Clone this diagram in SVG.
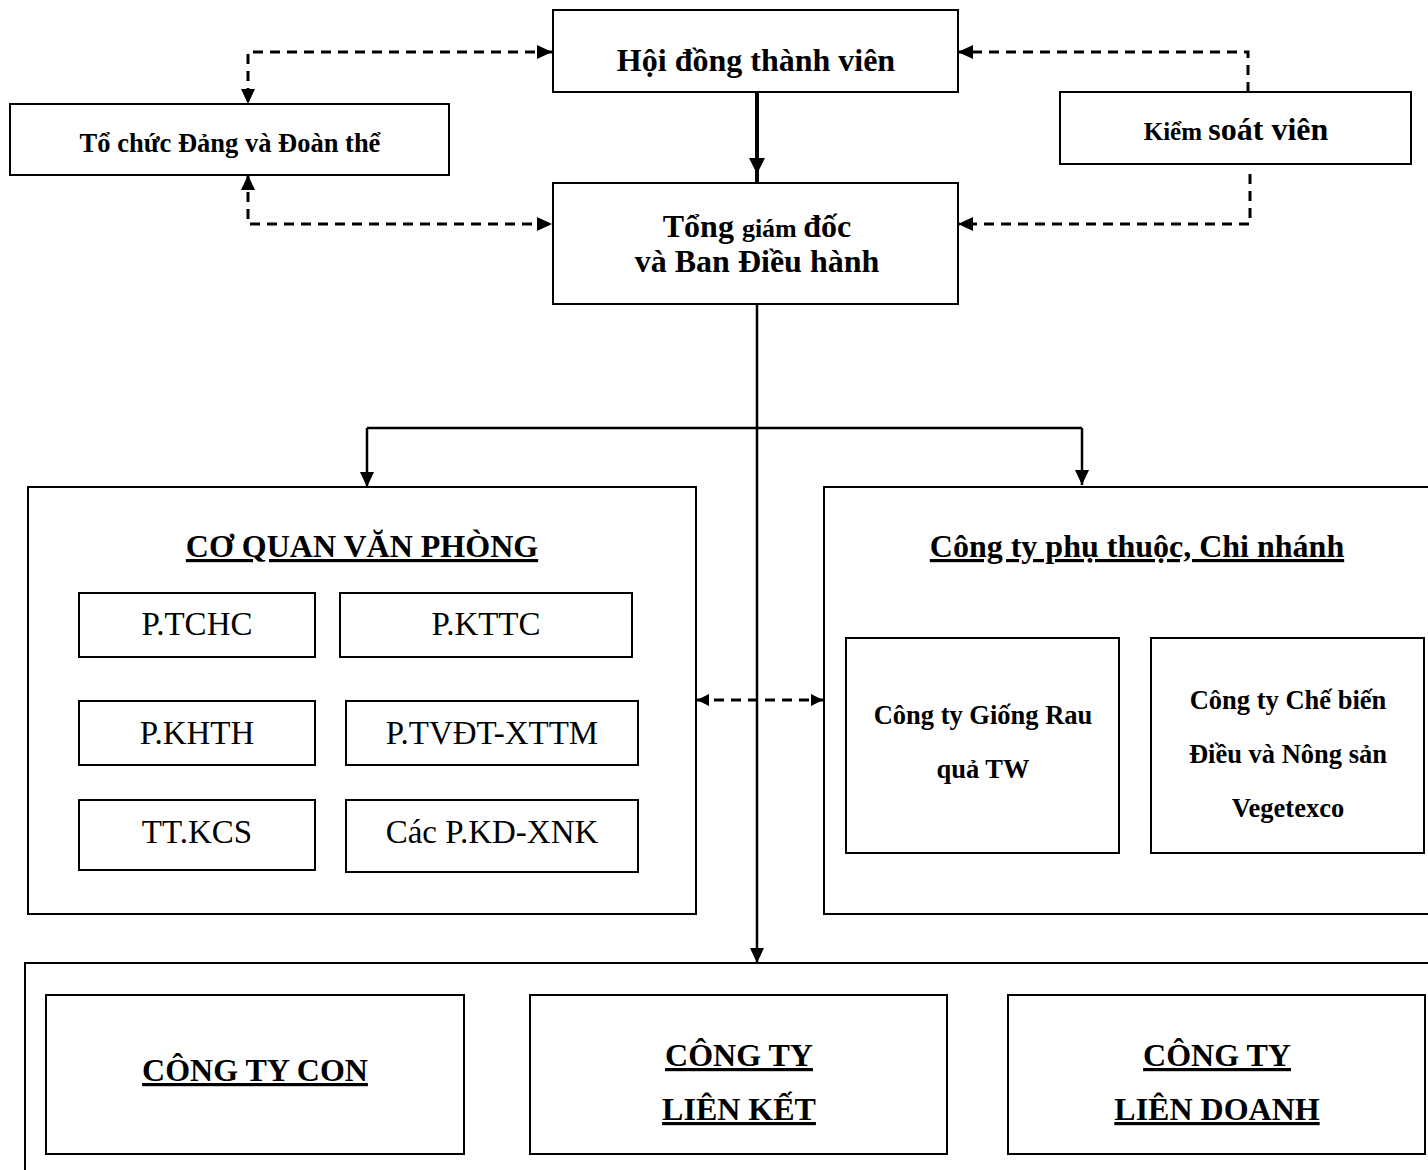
<svg xmlns="http://www.w3.org/2000/svg" width="1428" height="1170" viewBox="0 0 1428 1170">
<style>
.box{fill:#fff;stroke:#000;stroke-width:2}
.b{font-family:"Liberation Serif","Times New Roman",serif;font-weight:bold;fill:#000;text-anchor:middle}
.r{font-family:"Liberation Serif","Times New Roman",serif;font-weight:normal;fill:#000;text-anchor:middle;font-size:33px}
.u{text-decoration:underline;text-decoration-thickness:3px;text-underline-offset:4px}
.solid{fill:none;stroke:#000;stroke-width:2.5}
.dash{fill:none;stroke:#000;stroke-width:3;stroke-dasharray:10 7}
</style>
<defs>
<marker id="ah" viewBox="0 0 15 14" refX="15" refY="7" markerWidth="15" markerHeight="14" markerUnits="userSpaceOnUse" orient="auto-start-reverse">
<path d="M0,0 L15,7 L0,14 z" fill="#000"/>
</marker>
<marker id="ahs" viewBox="0 0 12 12" refX="12" refY="6" markerWidth="12" markerHeight="12" markerUnits="userSpaceOnUse" orient="auto-start-reverse">
<path d="M0,0 L12,6 L0,12 z" fill="#000"/>
</marker>
</defs>

<g id="bottom-frame"><rect class="box" x="25" y="963" width="1440" height="230"/></g>
<g id="co-quan-van-phong">
<rect class="box" x="28" y="487" width="668" height="427"/>
<text class="b u" x="362" y="557" font-size="32">CƠ QUAN VĂN PHÒNG</text>
</g>
<g id="cong-ty-phu-thuoc">
<rect class="box" x="824" y="487" width="630" height="427"/>
<text class="b u" x="1137" y="557" font-size="32">Công ty phụ thuộc, Chi nhánh</text>
</g>

<g id="hdtv"><rect class="box" x="553" y="10" width="405" height="82"/>
<text class="b" x="756" y="71" font-size="32">Hội đồng thành viên</text></g>
<g id="to-chuc-dang"><rect class="box" x="10" y="104" width="439" height="71"/>
<text class="b" x="230" y="152" font-size="26.5">Tổ chức Đảng và Đoàn thể</text></g>
<g id="kiem-soat-vien"><rect class="box" x="1060" y="92" width="351" height="72"/>
<text class="b" x="1236" y="140"><tspan font-size="25">Kiểm </tspan><tspan font-size="32">soát viên</tspan></text></g>
<g id="tong-giam-doc"><rect class="box" x="553" y="183" width="405" height="121"/>
<text class="b" x="757" y="237"><tspan font-size="32">Tổng </tspan><tspan font-size="26">giám </tspan><tspan font-size="32">đốc</tspan></text>
<text class="b" x="757" y="272" font-size="32">và Ban Điều hành</text></g>

<g id="p-tchc"><rect class="box" x="79" y="593" width="236" height="64"/><text class="r" x="197" y="635">P.TCHC</text></g>
<g id="p-kttc"><rect class="box" x="340" y="593" width="292" height="64"/><text class="r" x="486" y="635">P.KTTC</text></g>
<g id="p-khth"><rect class="box" x="79" y="701" width="236" height="64"/><text class="r" x="197" y="744">P.KHTH</text></g>
<g id="p-tvdt"><rect class="box" x="346" y="701" width="292" height="64"/><text class="r" x="492" y="744">P.TVĐT-XTTM</text></g>
<g id="tt-kcs"><rect class="box" x="79" y="800" width="236" height="70"/><text class="r" x="197" y="843">TT.KCS</text></g>
<g id="cac-p-kd"><rect class="box" x="346" y="800" width="292" height="72"/><text class="r" x="492" y="843">Các P.KD-XNK</text></g>

<g id="giong-rau"><rect class="box" x="846" y="638" width="273" height="215"/>
<text class="b" x="983" y="724" font-size="26.5">Công ty Giống Rau</text>
<text class="b" x="983" y="778" font-size="26.5">quả TW</text></g>
<g id="che-bien"><rect class="box" x="1151" y="638" width="273" height="215"/>
<text class="b" x="1288" y="709" font-size="26.5">Công ty Chế biến</text>
<text class="b" x="1288" y="763" font-size="26.5">Điều và Nông sản</text>
<text class="b" x="1288" y="817" font-size="26.5">Vegetexco</text></g>

<g id="cong-ty-con"><rect class="box" x="46" y="995" width="418" height="159"/>
<text class="b u" x="255" y="1081" font-size="32">CÔNG TY CON</text></g>
<g id="cong-ty-lien-ket"><rect class="box" x="530" y="995" width="417" height="159"/>
<text class="b u" x="739" y="1066" font-size="32">CÔNG TY</text>
<text class="b u" x="739" y="1120" font-size="32">LIÊN KẾT</text></g>
<g id="cong-ty-lien-doanh"><rect class="box" x="1008" y="995" width="417" height="159"/>
<text class="b u" x="1217" y="1066" font-size="32">CÔNG TY</text>
<text class="b u" x="1217" y="1120" font-size="32">LIÊN DOANH</text></g>

<g id="connectors">
<path d="M757,92 V183" fill="none" stroke="#000" stroke-width="4"/>
<path d="M749,158 L765,158 L757,174 z" fill="#000"/>
<path class="solid" d="M757,304 V963" marker-end="url(#ah)"/>
<path class="solid" d="M367,428 H1082"/>
<path class="solid" d="M367,428 V487" marker-end="url(#ah)"/>
<path class="solid" d="M1082,428 V485" marker-end="url(#ah)"/>
<path class="dash" d="M552,52 H248 V104" marker-start="url(#ah)" marker-end="url(#ah)"/>
<path class="dash" d="M248,175 V224 H552" marker-start="url(#ah)" marker-end="url(#ah)"/>
<path class="dash" d="M1248,92 V52 H958" marker-end="url(#ah)"/>
<path class="dash" d="M1250,174 V224 H958" marker-end="url(#ah)"/>
<path class="dash" d="M697,700 H823" marker-start="url(#ahs)" marker-end="url(#ahs)"/>
</g>
</svg>
